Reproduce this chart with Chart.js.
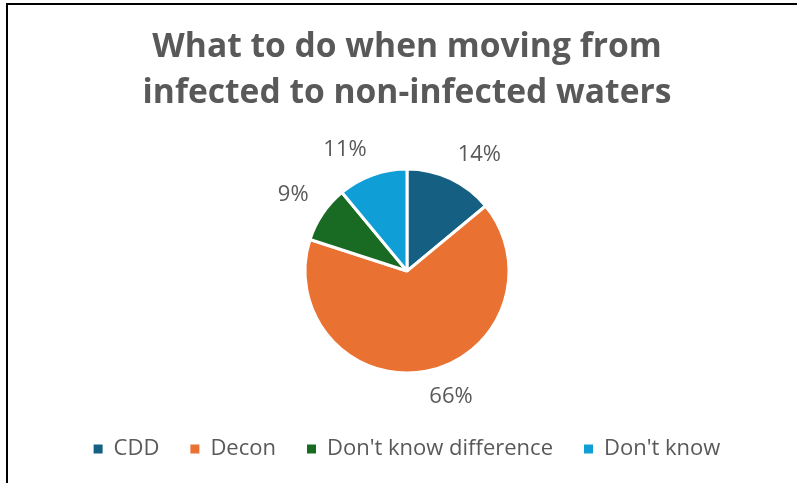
<!DOCTYPE html>
<html>
<head>
<meta charset="utf-8">
<script src="https://cdn.jsdelivr.net/npm/chart.js@4.4.1/dist/chart.umd.min.js"></script>
<style>
  html, body { margin: 0; padding: 0; background: #fff; overflow: hidden; }
  #frame {
    position: absolute; left: 6px; top: 3px;
    width: 800px; height: 490px;
    border-top: 2px solid #000; border-left: 2px solid #000;
  }
  #wrap { position: absolute; left: 0; top: 0; width: 798px; height: 478px; }
</style>
</head>
<body>
<div id="frame">
  <div id="wrap"><canvas id="pieChart"></canvas></div>
</div>
<script>
var categories = ['CDD', 'Decon', "Don't know difference", "Don't know"]
var percentages = [14, 66, 9, 11]
var sliceColors = ['#156082', '#E97132', '#196B24', '#0F9ED5']

Chart.defaults.font.family = "'Open Sans', sans-serif";
Chart.defaults.color = '#595959';

// percent labels outside each slice: anchor on the mid-angle ray,
// then the text box hangs off the anchor away from the pie
var outsideLabels = {
    id: 'outsideLabels',
    afterDatasetsDraw: function(chart){
        var ctx = chart.ctx
        var meta = chart.getDatasetMeta(0)
        ctx.save()
        ctx.font = "22px 'Open Sans', sans-serif"
        ctx.fillStyle = '#595959'
        ctx.textAlign = 'center'
        ctx.textBaseline = 'middle'
        meta.data.forEach(function(arc, i){
            var p = arc.getProps(['x', 'y', 'startAngle', 'endAngle', 'outerRadius'], true)
            var mid = (p.startAngle + p.endAngle) / 2
            var text = percentages[i] + '%'
            var w = ctx.measureText(text).width
            var cx = Math.cos(mid), cy = Math.sin(mid)
            var d = p.outerRadius + 17
            var x = p.x + cx * d + Math.sign(cx) * w / 2
            var y = p.y + cy * d + Math.sign(cy) * 9
            ctx.fillText(text, x, y)
        })
        ctx.restore()
    }
}

let ctxPie = document.getElementById('pieChart').getContext('2d');

let chartPie = new Chart(ctxPie, {
    type: 'pie',
    data: {
        labels: categories,
        datasets: [{
            data: percentages,
            backgroundColor: sliceColors,
            borderColor: '#ffffff',
            borderWidth: 3,
            radius: 102
        }]
    },
    options: {
        responsive: true,
        maintainAspectRatio: false,
        animation: false,
        layout: {
            padding: { top: 0, bottom: 13, left: 0, right: 0 }
        },
        plugins: {
            title: {
                display: true,
                text: ['What to do when moving from', 'infected to non-infected waters'],
                color: '#595959',
                font: { size: 33.6, weight: 'bold', lineHeight: 1.37 },
                padding: { top: 19, bottom: 19 }
            },
            legend: {
                display: true,
                position: 'bottom',
                labels: {
                    boxWidth: 9,
                    boxHeight: 9,
                    padding: 31,
                    color: '#595959',
                    font: { size: 22 },
                    // plain filled squares, no white slice border
                    generateLabels: function(chart){
                        var items = Chart.overrides.pie.plugins.legend.labels.generateLabels(chart)
                        items.forEach(function(it){ it.lineWidth = 0 })
                        return items
                    }
                }
            },
            tooltip: { enabled: false }
        }
    },
    plugins: [outsideLabels]
})
</script>
</body>
</html>
